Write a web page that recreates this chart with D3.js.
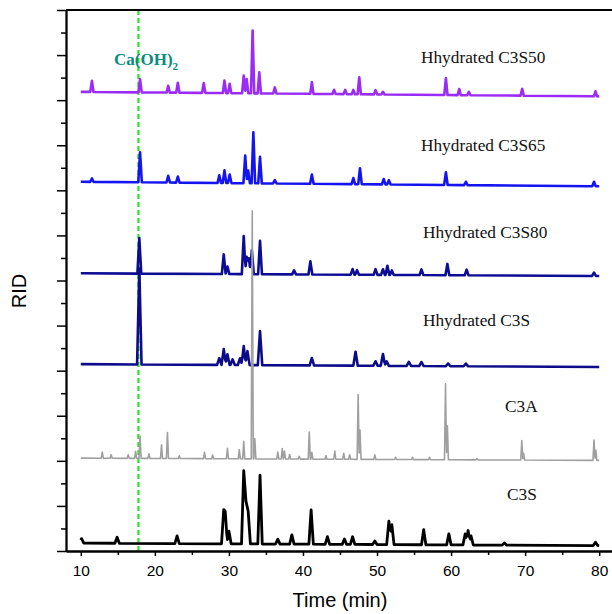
<!DOCTYPE html>
<html>
<head>
<meta charset="utf-8">
<script src="https://cdn.jsdelivr.net/npm/d3@7"></script>
<style>
  html, body { margin: 0; padding: 0; background: #fff; }
  svg { display: block; }
</style>
</head>
<body>
<svg id="chart" width="612" height="614"></svg>
<script>
// values: peak position (min) and height (axis units above baseline)
const timeTicks = [10, 20, 30, 40, 50, 60, 70, 80];
const timeMinorTicks = [15, 25, 35, 45, 55, 65, 75];
const seriesNames = ["Hhydrated C3S50", "Hhydrated C3S65", "Hhydrated C3S80", "Hhydrated C3S", "C3A", "C3S"];
const seriesOffsets = [20.33, 16.34, 12.32, 8.26, 4.09, 0.27];
const caOHTime = 17.78;

const peaksC3S50 = [[11.5, 0.49], [18.0, 0.59], [21.8, 0.3], [23.1, 0.44], [26.6, 0.44], [29.4, 0.56], [30.1, 0.41],
  [32.0, 0.78], [32.4, 0.63], [33.2, 2.78], [34.1, 0.93], [36.2, 0.27], [41.2, 0.52], [44.2, 0.19], [45.7, 0.19],
  [46.8, 0.19], [47.6, 0.75], [49.8, 0.19], [50.8, 0.12], [59.3, 0.75], [61.1, 0.27], [62.4, 0.15], [69.6, 0.3], [79.5, 0.22]];
const peaksC3S65 = [[11.5, 0.15], [18.0, 1.33], [21.8, 0.3], [23.1, 0.27], [28.7, 0.34], [29.4, 0.56], [30.1, 0.38],
  [32.2, 1.23], [32.6, 0.56], [33.3, 2.26], [34.2, 1.18], [36.2, 0.15], [41.2, 0.41], [46.8, 0.27], [47.7, 0.71],
  [50.9, 0.24], [51.6, 0.19], [59.3, 0.56], [62.0, 0.15], [79.3, 0.2]];
const peaksC3S80 = [[17.9, 1.58], [29.3, 0.87], [29.8, 0.33], [32.0, 1.69], [32.4, 0.77], [32.7, 0.7], [33.1, 1.06],
  [34.2, 1.48], [38.8, 0.18], [41.0, 0.58], [46.7, 0.25], [47.3, 0.2], [49.8, 0.25], [50.8, 0.25], [51.4, 0.4],
  [52.0, 0.2], [56.0, 0.25], [59.5, 0.5], [62.1, 0.25], [79.3, 0.15]];
const peaksC3SHyd = [[17.9, 4.26], [28.7, 0.3], [29.3, 0.7], [29.8, 0.47], [30.5, 0.25], [31.5, 0.3], [32.0, 0.84],
  [32.5, 0.62], [34.2, 1.51], [41.2, 0.33], [47.1, 0.62], [49.8, 0.2], [50.8, 0.52], [51.3, 0.2], [54.3, 0.18],
  [56.0, 0.18], [59.6, 0.12], [62.0, 0.12]];
const peaksC3A = [[12.9, 0.27], [14.1, 0.16], [16.4, 0.16], [17.4, 0.31], [18.0, 0.98], [19.2, 0.21], [20.9, 0.61],
  [21.7, 1.15], [23.3, 0.12], [26.7, 0.28], [27.8, 0.16], [29.8, 0.46], [31.4, 0.41], [32.0, 0.78], [33.15, 11.0],
  [33.5, 0.9], [36.6, 0.31], [37.2, 0.46], [37.5, 0.35], [38.2, 0.2], [39.5, 0.12], [40.85, 1.2], [41.2, 0.3],
  [43.1, 0.16], [44.3, 0.36], [45.5, 0.27], [46.3, 0.2], [47.45, 2.87], [47.7, 1.3], [49.7, 0.2], [52.5, 0.1],
  [54.8, 0.1], [57.1, 0.1], [59.25, 3.37], [59.5, 1.5], [63.5, 0.06], [69.55, 0.86], [69.8, 0.3], [79.3, 0.9], [79.55, 0.45]];
const peaksC3S = [[10.1, 0.2], [14.9, 0.27], [23.0, 0.34], [29.3, 1.52], [29.5, 1.45], [30.0, 0.56], [32.0, 3.25],
  [32.3, 1.9], [32.6, 1.45], [34.2, 3.05], [36.6, 0.22], [38.5, 0.41], [41.1, 1.52], [43.3, 0.34], [45.6, 0.24],
  [46.7, 0.34], [49.7, 0.16], [51.6, 1.04], [52.0, 0.89], [56.3, 0.67], [59.7, 0.49], [61.9, 0.49], [62.3, 0.64],
  [62.7, 0.4], [67.2, 0.1], [79.5, 0.15]];
const seriesPeaks = [peaksC3S50, peaksC3S65, peaksC3S80, peaksC3SHyd, peaksC3A, peaksC3S];
// baseline level at start and end of each run
const baselineStart = [0.04, 0.04, 0.0, 0.03, 0.03, 0.08];
const baselineEnd = [-0.16, -0.16, -0.12, -0.1, -0.07, -0.03];

const colors = ["#9a2cf5", "#1414f0", "#0c0c94", "#0c0c8a", "#a0a0a0", "#000000"];
const halfWidths = [0.22, 0.24, 0.26, 0.3, 0.14, 0.3];
const strokeWidths = [2.6, 2.6, 2.6, 2.6, 1.6, 2.8];
const labelPos = [[421, 63], [421, 151], [423, 238], [423, 326], [505, 412], [507, 500]];

const svg = d3.select("#chart");
const margin = { left: 66, top: 10, right: 614, bottom: 551 };
const x = d3.scaleLinear().domain([8, 82]).range([margin.left, margin.right]);
const y = d3.scaleLinear().domain([0, 24]).range([margin.bottom, margin.top]);

// green reference line for Ca(OH)2
svg.append("line")
  .attr("x1", x(caOHTime)).attr("x2", x(caOHTime))
  .attr("y1", y(24)).attr("y2", y(0))
  .attr("stroke", "#22e622").attr("stroke-width", 2.2)
  .attr("stroke-dasharray", "5,3");

// build each trace from its peaks (triangles on a sloped baseline)
function traceOf(i) {
  const pk = seriesPeaks[i], w = halfWidths[i];
  const base = d3.scaleLinear().domain([10, 80]).range([baselineStart[i], baselineEnd[i]]);
  let ts = [10, 80];
  pk.forEach(([t]) => ts.push(t - w, t, t + w));
  ts = ts.filter((t) => t >= 10 && t <= 80).sort((a, b) => a - b);
  return ts.map((t) => {
    let h = 0;
    pk.forEach(([pt, ph]) => {
      const d = Math.abs(t - pt);
      if (d < w) h = Math.max(h, ph * (1 - d / w));
    });
    return [t, seriesOffsets[i] + base(t) + h];
  });
}

const line = d3.line().x((d) => x(d[0])).y((d) => y(d[1]));
const drawOrder = [0, 1, 2, 3, 5, 4];
drawOrder.forEach((i) => {
  svg.append("path")
    .datum(traceOf(i))
    .attr("fill", "none")
    .attr("stroke", colors[i])
    .attr("stroke-width", strokeWidths[i])
    .attr("stroke-linejoin", "round")
    .attr("d", line);
});

// series labels
seriesNames.forEach((name, i) => {
  svg.append("text")
    .attr("x", labelPos[i][0]).attr("y", labelPos[i][1])
    .attr("font-family", "'Liberation Serif', 'Times New Roman', serif")
    .attr("font-size", 17.3)
    .attr("fill", "#111")
    .text(name);
});

const ca = svg.append("text")
  .attr("x", 114).attr("y", 65)
  .attr("font-family", "'Liberation Serif', 'Times New Roman', serif")
  .attr("font-weight", "bold")
  .attr("font-size", 17)
  .attr("fill", "#0a8a80");
ca.append("tspan").text("Ca(OH)");
ca.append("tspan").attr("font-size", 11).attr("dy", 5).text("2");

// axes
const axisFont = "'Liberation Sans', Arial, sans-serif";
function styleAxis(g) {
  g.selectAll("path.domain").attr("stroke", "#000").attr("stroke-width", 1.8);
  g.selectAll(".tick line").attr("stroke", "#000").attr("stroke-width", 1.5);
}

svg.append("g")
  .attr("transform", `translate(0,${margin.bottom})`)
  .call(d3.axisBottom(x).tickValues(timeMinorTicks).tickSize(4).tickSizeOuter(0).tickFormat(""))
  .call(styleAxis);
svg.append("g")
  .attr("transform", `translate(0,${margin.bottom})`)
  .call(d3.axisBottom(x).tickValues(timeTicks).tickSize(5).tickSizeOuter(0).tickPadding(9))
  .call(styleAxis)
  .call((g) => g.selectAll("text").attr("font-family", axisFont).attr("font-size", 15.5).attr("fill", "#000"));

svg.append("g")
  .attr("transform", `translate(${margin.left},0)`)
  .call(d3.axisLeft(y).tickValues(d3.range(1, 24, 2)).tickSize(5).tickSizeOuter(0).tickFormat(""))
  .call(styleAxis);
svg.append("g")
  .attr("transform", `translate(${margin.left},0)`)
  .call(d3.axisLeft(y).tickValues(d3.range(0, 25, 2)).tickSize(9).tickSizeOuter(0).tickFormat(""))
  .call(styleAxis);

// top border
svg.append("line")
  .attr("x1", margin.left).attr("x2", margin.right)
  .attr("y1", margin.top).attr("y2", margin.top)
  .attr("stroke", "#000").attr("stroke-width", 1.8);

// axis titles
svg.append("text")
  .attr("x", 340).attr("y", 607)
  .attr("text-anchor", "middle")
  .attr("font-family", axisFont).attr("font-size", 20)
  .text("Time (min)");
svg.append("text")
  .attr("transform", "translate(26,291) rotate(-90)")
  .attr("text-anchor", "middle")
  .attr("font-family", axisFont).attr("font-size", 20)
  .text("RID");
</script>
</body>
</html>
